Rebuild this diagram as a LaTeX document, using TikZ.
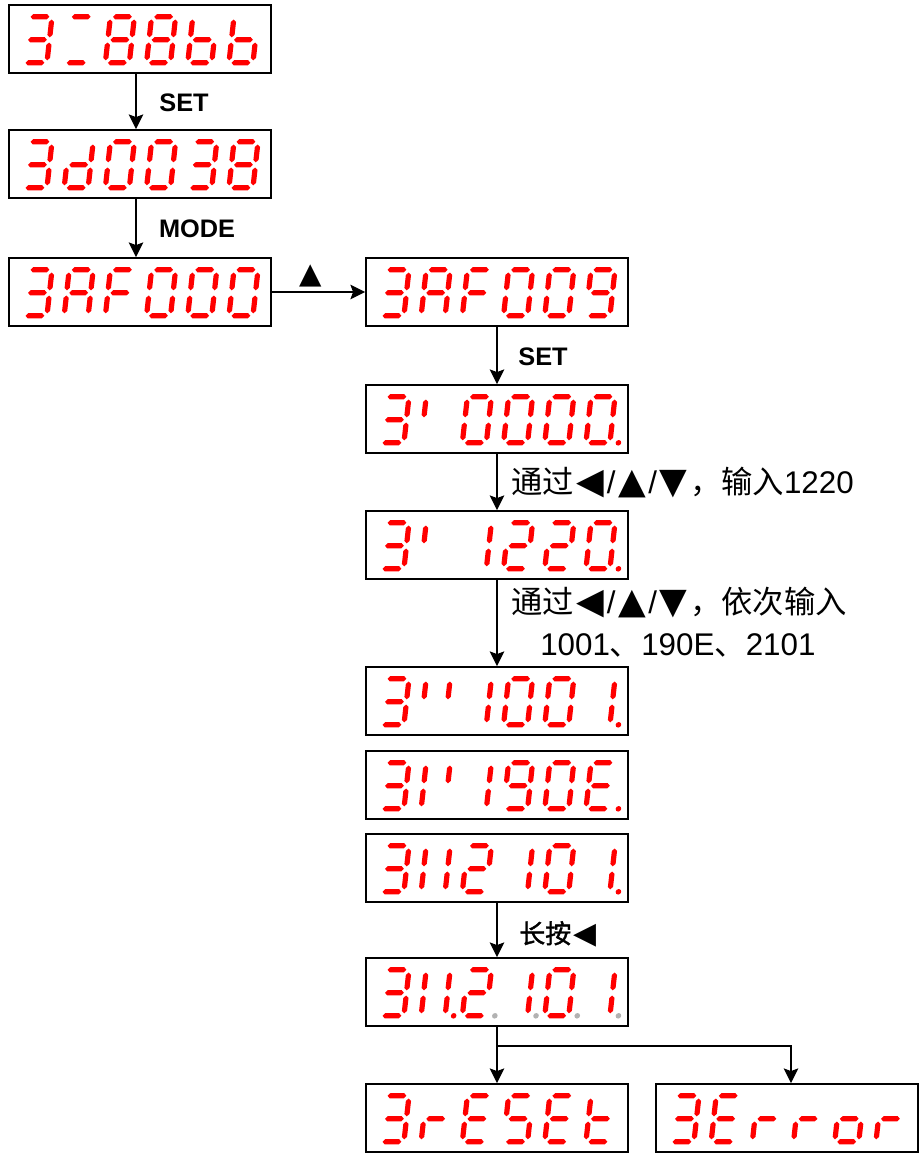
\documentclass[tikz,border=0pt]{standalone}
\usepackage{fontspec}
\setmainfont{Liberation Sans}
\newfontfamily\cjk{Noto Sans CJK SC}
\newfontfamily\cjkb[FakeBold=1.5]{Noto Sans CJK SC}
\newfontfamily\symf[Scale=1.15]{DejaVu Sans}
\usetikzlibrary{arrows.meta,calc}
\definecolor{segred}{RGB}{255,0,0}
\definecolor{dpgray}{RGB}{178,178,178}
\newcommand\tri[1]{\makebox[1.05em]{\symf #1}}
% seven-segment pieces (local px units, y downwards)
\newcommand\hseg[2]{\fill[segred,shift={(#1,#2)}] (2.6,0)--(5,-2.6)--(19,-2.6)--(21.4,0)--(19,2.6)--(5,2.6)--cycle;}
\newcommand\vseg[2]{\fill[segred,shift={(#1,#2)}] (0,-0.3)--(2.6,2.1)--(2.6,15.1)--(0,17.5)--(-2.6,15.1)--(-2.6,2.1)--cycle;}
\expandafter\def\csname dsega\endcsname{\hseg{0}{0}}
\expandafter\def\csname dsegg\endcsname{\hseg{0}{23}}
\expandafter\def\csname dsegd\endcsname{\hseg{0}{46}}
\expandafter\def\csname dsegf\endcsname{\vseg{0}{3}}
\expandafter\def\csname dsegb\endcsname{\vseg{24}{3}}
\expandafter\def\csname dsege\endcsname{\vseg{0}{26}}
\expandafter\def\csname dsegc\endcsname{\vseg{24}{26}}
\expandafter\def\csname dsegp\endcsname{\fill[segred] (32.5,46) circle (2.8);}
\expandafter\def\csname dsegq\endcsname{\fill[dpgray] (32.5,46) circle (2.8);}
\def\sgZero{a,b,c,d,e,f}
\def\sgOne{b,c}
\def\sgTwo{a,b,d,e,g}
\def\sgThree{a,b,c,d,g}
\def\sgEight{a,b,c,d,e,f,g}
\def\sgNine{a,b,c,d,f,g}
\def\sgA{a,b,c,e,f,g}
\def\sgb{c,d,e,f,g}
\def\sgd{b,c,d,e,g}
\def\sgE{a,d,e,f,g}
\def\sgF{a,e,f,g}
\def\sgr{e,g}
\def\sgS{a,c,d,f,g}
\def\sgt{d,e,f,g}
\def\sgo{c,d,e,g}
\newcommand\sdig[4]{%
  \begin{scope}[shift={({#1+19+(#3-1)*41.2},{#2+11.8})},xslant=0.11]
    \edef\seglist{#4}%
    \foreach \s in \seglist {\csname dseg\s\endcsname}
  \end{scope}}
\newcommand\disp[9]{%
  \node[dbox] (#1) at ({#2+131},{#3+34}) {};
  \sdig{#2}{#3}{1}{#4}\sdig{#2}{#3}{2}{#5}\sdig{#2}{#3}{3}{#6}%
  \sdig{#2}{#3}{4}{#7}\sdig{#2}{#3}{5}{#8}\sdig{#2}{#3}{6}{#9}}
\tikzset{
  dbox/.style={draw=black, line width=1.4pt, minimum width=196.5pt, minimum height=51pt, inner sep=0pt},
  arr/.style={line width=1.1pt, -{Stealth[length=11pt,width=11pt,inset=2pt]}},
  lbl/.style={inner sep=0pt, font=\fontsize{19pt}{22pt}\selectfont\bfseries},
  trilbl/.style={inner sep=0pt, font=\fontsize{19pt}{22pt}\selectfont\symf},
  ctext/.style={inner sep=0pt, anchor=west, font=\fontsize{23.5pt}{27pt}\selectfont},
  btext/.style={inner sep=0pt, anchor=west, font=\fontsize{19.5pt}{22pt}\selectfont},
}
\begin{document}
\begin{tikzpicture}[x=0.75pt,y=-0.75pt]
\useasboundingbox (0,0) rectangle (921,1154);
% displays
\disp{b1}{9}{5}{\sgThree}{a,d}{\sgEight}{\sgEight}{\sgb}{\sgb}
\disp{b2}{9}{130}{\sgThree}{\sgd}{\sgZero}{\sgZero}{\sgThree}{\sgEight}
\disp{b3}{9}{258}{\sgThree}{\sgA}{\sgF}{\sgZero}{\sgZero}{\sgZero}
\disp{b4}{366}{258}{\sgThree}{\sgA}{\sgF}{\sgZero}{\sgZero}{\sgNine}
\disp{b5}{366}{385}{\sgThree}{f}{\sgZero}{\sgZero}{\sgZero}{\sgZero,p}
\disp{b6}{366}{511}{\sgThree}{f}{\sgOne}{\sgTwo}{\sgTwo}{\sgZero,p}
\disp{b7}{366}{667}{\sgThree}{f,b}{\sgOne}{\sgZero}{\sgZero}{\sgOne,p}
\disp{b8}{366}{751}{\sgThree}{b,e,f}{\sgOne}{\sgNine}{\sgZero}{\sgE,p}
\disp{b9}{366}{834}{\sgThree}{b,c,e,f}{\sgTwo}{\sgOne}{\sgZero}{\sgOne,p}
\disp{b10}{366}{958}{\sgThree}{b,c,e,f,p}{\sgTwo,q}{\sgOne,q}{\sgZero,q}{\sgOne,q}
\disp{b11}{366}{1084}{\sgThree}{\sgr}{\sgE}{\sgS}{\sgE}{\sgt}
\disp{b12}{656}{1084}{\sgThree}{\sgE}{\sgr}{\sgr}{\sgo}{\sgr}
% connectors
\draw[arr] ([xshift=-3pt]b1.south) -- ([xshift=-3pt]b2.north);
\draw[arr] ([xshift=-3pt]b2.south) -- ([xshift=-3pt]b3.north);
\draw[arr] (b3.east) -- (b4.west);
\draw[arr] (b4.south) -- (b5.north);
\draw[arr] (b5.south) -- (b6.north);
\draw[arr] (b6.south) -- (b7.north);
\draw[arr] (b9.south) -- (b10.north);
\draw[arr] (b10.south) -- (b11.north);
\coordinate (br) at (791,1046);
\draw[arr] (br -| b10.south) -- (br) -- (br |- b12.north);
% labels
\node[lbl] (l1) at (184,103) {SET};
\node[lbl] (l2) at (197,229) {MODE};
\node[trilbl] (l3) at (311,276) {▲};
\node[lbl] (l4) at (543,357) {SET};
\node[ctext] (l5) at (511,483) {{\cjk 通过}\tri{◀}/\tri{▲}/\tri{▼}{\cjk ，输入}1220};
\node[ctext] (l6) at (511,603) {{\cjk 通过}\tri{◀}/\tri{▲}/\tri{▼}{\cjk ，依次输入}};
\node[ctext] (l7) at (540,645) {1001{\cjk 、}190E{\cjk 、}2101};
\node[btext] (l8) at (519,934) {{\cjkb 长按}\tri{◀}};
\end{tikzpicture}
\end{document}
